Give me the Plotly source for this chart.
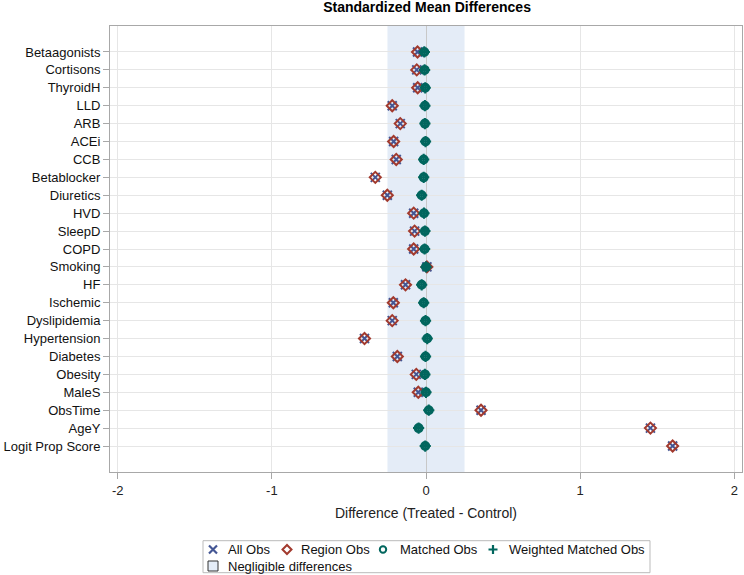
import plotly.graph_objects as go

labels = ["Betaagonists", "Cortisons", "ThyroidH", "LLD", "ARB", "ACEi", "CCB",
          "Betablocker", "Diuretics", "HVD", "SleepD", "COPD", "Smoking", "HF",
          "Ischemic", "Dyslipidemia", "Hypertension", "Diabetes", "Obesity",
          "MaleS", "ObsTime", "AgeY", "Logit Prop Score"]

all_obs = [-0.055, -0.060, -0.054, -0.219, -0.167, -0.210, -0.193, -0.329, -0.251,
           -0.080, -0.074, -0.080, 0.006, -0.133, -0.212, -0.219, -0.399, -0.186,
           -0.063, -0.050, 0.357, 1.456, 1.600]
region_obs = [-0.055, -0.060, -0.054, -0.219, -0.167, -0.210, -0.193, -0.329, -0.251,
              -0.080, -0.074, -0.080, 0.006, -0.133, -0.212, -0.219, -0.399, -0.186,
              -0.063, -0.050, 0.357, 1.456, 1.600]
matched_obs = [-0.011, -0.009, -0.005, -0.007, -0.007, -0.003, -0.015, -0.015, -0.028,
               -0.013, -0.007, -0.009, 0.000, -0.028, -0.015, -0.003, 0.008, -0.003,
               -0.007, 0.000, 0.018, -0.048, -0.005]
weighted_obs = [-0.011, -0.009, -0.005, -0.007, -0.007, -0.003, -0.015, -0.015, -0.028,
                -0.013, -0.007, -0.009, 0.000, -0.028, -0.015, -0.003, 0.008, -0.003,
                -0.007, 0.000, 0.018, -0.048, -0.005]
negligible = [-0.25, 0.25]
x_ticks = [-2, -1, 0, 1, 2]
legend_names = ["All Obs", "Region Obs", "Matched Obs", "Weighted Matched Obs",
                "Negligible differences"]

BLUE = "#445694"
RED = "#A23A2E"
TEAL = "#01665E"
BAND = "#E4ECF7"
FONT = "Liberation Sans, Arial, sans-serif"

W, H = 744, 575
ML, MR, MT, MB = 110, 2, 26, 103
PW, PH = W - ML - MR, H - MT - MB


def px(xp):
    return (xp - ML) / PW


def py(yp):
    return (H - MB - yp) / PH


fig = go.Figure()
fig.add_trace(go.Scatter(x=all_obs, y=labels, mode="markers", name=legend_names[0],
                         marker=dict(symbol="x-thin-open", size=9, color=BLUE,
                                     line=dict(width=2, color=BLUE))))
fig.add_trace(go.Scatter(x=region_obs, y=labels, mode="markers", name=legend_names[1],
                         marker=dict(symbol="diamond-open", size=8.5, color=RED,
                                     line=dict(width=2, color=RED))))
fig.add_trace(go.Scatter(x=matched_obs, y=labels, mode="markers", name=legend_names[2],
                         marker=dict(symbol="circle-open", size=6.5, color=TEAL,
                                     line=dict(width=3.5, color=TEAL))))
fig.add_trace(go.Scatter(x=weighted_obs, y=labels, mode="markers", name=legend_names[3],
                         marker=dict(symbol="cross-thin-open", size=8, color=TEAL,
                                     line=dict(width=2, color=TEAL))))

# negligible-difference band
fig.add_shape(type="rect", xref="x", yref="paper", x0=negligible[0], x1=negligible[1],
              y0=0, y1=1, fillcolor=BAND, line=dict(width=0), layer="below")

# ---- legend (drawn manually to match the compact SAS layout) ----
fig.add_shape(type="rect", xref="paper", yref="paper", x0=px(203), x1=px(650),
              y0=py(572.7), y1=py(540.7), line=dict(color="#BBBBBB", width=1),
              fillcolor="rgba(0,0,0,0)", layer="above")

row1, row2 = 549.5, 566
sym_x = [213, 287, 383, 493, 213]
txt_x = [226, 299, 398, 507, 226]
rows = [row1, row1, row1, row1, row2]
sym_specs = [
    dict(type="path", path="M-4,-4 L4,4 M-4,4 L4,-4", line=dict(color=BLUE, width=2.2)),
    dict(type="path", path="M0,-4.5 L4.5,0 L0,4.5 L-4.5,0 Z", line=dict(color=RED, width=2)),
    dict(type="circle", x0=-3.2, x1=3.2, y0=-3.2, y1=3.2, line=dict(color=TEAL, width=2)),
    dict(type="path", path="M-4.5,0 L4.5,0 M0,-4.5 L0,4.5", line=dict(color=TEAL, width=2.2)),
    dict(type="rect", x0=-5, x1=5, y0=-5, y1=5, line=dict(color="#333333", width=1),
         fillcolor=BAND),
]
for i, spec in enumerate(sym_specs):
    s = dict(spec)
    s.update(xref="paper", yref="paper", xsizemode="pixel", ysizemode="pixel",
             xanchor=px(sym_x[i]), yanchor=py(rows[i]), layer="above")
    if "fillcolor" not in s:
        s["fillcolor"] = "rgba(0,0,0,0)"
    fig.add_shape(**s)
    fig.add_annotation(text=legend_names[i], xref="paper", yref="paper",
                       x=px(txt_x[i]), y=py(rows[i]), xanchor="left", yanchor="middle",
                       showarrow=False, font=dict(size=13, color="#111111"))

fig.update_layout(
    width=W, height=H,
    margin=dict(l=ML, r=MR, t=MT, b=MB),
    paper_bgcolor="white", plot_bgcolor="white",
    font=dict(family=FONT, size=13, color="#000000"),
    title=dict(text="<b>Standardized Mean Differences</b>", x=0.574, xanchor="center",
               y=0.988, yanchor="middle", font=dict(size=14, family=FONT)),
    showlegend=False,
)

fig.update_xaxes(range=[-2.05, 2.05], tickvals=x_ticks, ticktext=[str(v) for v in x_ticks],
                 showgrid=True, gridcolor="#E6E6E6", gridwidth=1,
                 zeroline=True, zerolinecolor="#C8C8C8", zerolinewidth=1,
                 showline=True, linecolor="#A8A8A8", linewidth=1, mirror=True,
                 ticks="outside", ticklen=6, tickcolor="#A8A8A8",
                 tickfont=dict(size=13, color="#222222"),
                 title=dict(text="Difference (Treated - Control)", standoff=11,
                            font=dict(size=14, color="#222222")))
fig.update_yaxes(type="category", categoryorder="array", categoryarray=labels,
                 range=[len(labels) - 1 + 1.45, -1.45],
                 showgrid=True, gridcolor="#E6E6E6", gridwidth=1,
                 showline=True, linecolor="#A8A8A8", linewidth=1, mirror=True,
                 ticks="outside", ticklen=6, tickcolor="#A8A8A8",
                 tickfont=dict(size=13, color="#111111"))

fig.write_html("out.html")
